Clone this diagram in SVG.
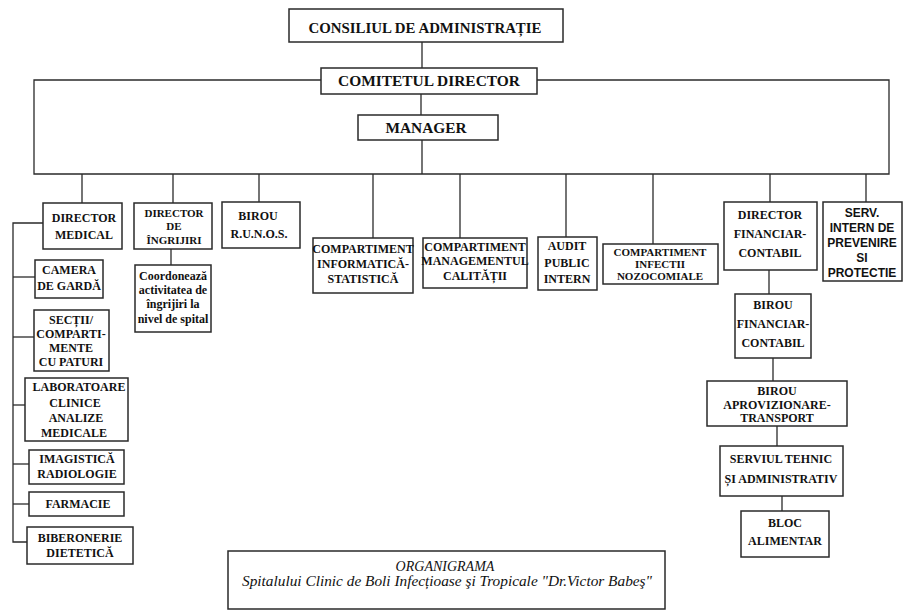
<svg xmlns="http://www.w3.org/2000/svg" width="905" height="612" viewBox="0 0 905 612">
<style>
.b{fill:#fff;stroke:#2a2a2a;stroke-width:1.5}
.c{stroke:#2a2a2a;stroke-width:1.3;fill:none}
text{font-family:'Liberation Serif','DejaVu Serif',serif;font-weight:bold;font-size:12px;fill:#111;text-anchor:middle}
.big{font-size:14px}
.sm{font-size:11px}
text.sans{font-family:'Liberation Sans',Arial,sans-serif;font-size:12px}
text.it{font-style:italic;font-weight:normal;font-size:14px}
</style>
<rect width="905" height="612" fill="#fff"/>
<g id="connectors">
<line class="c" x1="422" y1="42" x2="422" y2="68"/>
<polyline class="c" points="321,80 34,80 34,174 889,174 889,80 537,80"/>
<line class="c" x1="421" y1="94" x2="421" y2="115"/>
<line class="c" x1="422" y1="140" x2="422" y2="174"/>
<line class="c" x1="82" y1="174" x2="82" y2="203"/>
<line class="c" x1="173" y1="174" x2="173" y2="203"/>
<line class="c" x1="259" y1="174" x2="259" y2="202"/>
<line class="c" x1="373" y1="174" x2="373" y2="238"/>
<line class="c" x1="460" y1="174" x2="460" y2="238"/>
<line class="c" x1="566" y1="174" x2="566" y2="237"/>
<line class="c" x1="653" y1="174" x2="653" y2="244"/>
<line class="c" x1="770" y1="174" x2="770" y2="202"/>
<line class="c" x1="866" y1="174" x2="866" y2="202"/>
<line class="c" x1="171" y1="249" x2="171" y2="265"/>
<polyline class="c" points="43,223 13,223 13,542 27,542"/>
<line class="c" x1="13" y1="277" x2="35" y2="277"/>
<line class="c" x1="13" y1="337" x2="34" y2="337"/>
<line class="c" x1="13" y1="405" x2="25" y2="405"/>
<line class="c" x1="13" y1="464" x2="29" y2="464"/>
<line class="c" x1="13" y1="504" x2="29" y2="504"/>
<line class="c" x1="769" y1="270" x2="769" y2="294"/>
<line class="c" x1="773" y1="358" x2="773" y2="381"/>
<line class="c" x1="777" y1="426" x2="777" y2="446"/>
<line class="c" x1="782" y1="496" x2="782" y2="511"/>
</g>
<g id="consiliul"><rect class="b" x="289" y="9" width="274" height="33"/><text class="big" x="425" y="33" textLength="233" lengthAdjust="spacingAndGlyphs">CONSILIUL DE ADMINISTRAȚIE</text></g>
<g id="comitetul"><rect class="b" x="321" y="68" width="216" height="26"/><text class="big" x="429" y="86" textLength="182" lengthAdjust="spacingAndGlyphs">COMITETUL  DIRECTOR</text></g>
<g id="manager"><rect class="b" x="358" y="115" width="140" height="25"/><text class="big" x="426" y="133" textLength="81" lengthAdjust="spacingAndGlyphs">MANAGER</text></g>
<g id="director-medical"><rect class="b" x="43" y="203" width="79" height="46"/><text x="84" y="222">DIRECTOR</text><text x="84" y="239">MEDICAL</text></g>
<g id="director-ingrijiri"><rect class="b" x="134" y="203" width="78" height="46"/><text class="sm" x="174" y="217">DIRECTOR</text><text class="sm" x="174" y="230">DE</text><text class="sm" x="174" y="244">ÎNGRIJIRI</text></g>
<g id="birou-runos"><rect class="b" x="222" y="202" width="78" height="46"/><text x="258" y="220">BIROU</text><text x="259" y="238">R.U.N.O.S.</text></g>
<g id="coordoneaza"><rect class="b" x="135" y="265" width="76" height="67"/><text x="173" y="280">Coordonează</text><text x="173" y="294">activitatea de</text><text x="173" y="308">îngrijiri la</text><text x="173" y="323">nivel de spital</text></g>
<g id="camera-garda"><rect class="b" x="35" y="260" width="68" height="38"/><text x="69" y="274">CAMERA</text><text x="69" y="290">DE GARDĂ</text></g>
<g id="sectii"><rect class="b" x="34" y="310" width="75" height="61"/><text x="71" y="324">SECȚII/</text><text x="71" y="338">COMPARTI-</text><text x="71" y="352">MENTE</text><text x="71" y="366">CU PATURI</text></g>
<g id="laboratoare"><rect class="b" x="25" y="378" width="103" height="63"/><text x="79" y="391">LABORATOARE</text><text x="75" y="407">CLINICE</text><text x="76" y="422">ANALIZE</text><text x="74" y="437">MEDICALE</text></g>
<g id="imagistica"><rect class="b" x="29" y="450" width="95" height="34"/><text x="77" y="463">IMAGISTICĂ</text><text x="77" y="478">RADIOLOGIE</text></g>
<g id="farmacie"><rect class="b" x="29" y="492" width="95" height="24"/><text x="78" y="508">FARMACIE</text></g>
<g id="biberonerie"><rect class="b" x="27" y="527" width="106" height="37"/><text x="80" y="542">BIBERONERIE</text><text x="80" y="557">DIETETICĂ</text></g>
<g id="informatica"><rect class="b" x="313" y="238" width="100" height="55"/><text x="363" y="253">COMPARTIMENT</text><text x="363" y="268">INFORMATICĂ-</text><text x="363" y="283">STATISTICĂ</text></g>
<g id="calitatii"><rect class="b" x="423" y="238" width="104" height="50"/><text x="475" y="251">COMPARTIMENT</text><text x="475" y="265">MANAGEMENTUL</text><text x="475" y="280">CALITĂȚII</text></g>
<g id="audit"><rect class="b" x="538" y="237" width="59" height="53"/><text x="567" y="250">AUDIT</text><text x="567" y="267">PUBLIC</text><text x="567" y="283">INTERN</text></g>
<g id="infectii"><rect class="b" x="603" y="244" width="115" height="40"/><text class="sm" x="660" y="256">COMPARTIMENT</text><text class="sm" x="660" y="268">INFECTII</text><text class="sm" x="660" y="280">NOZOCOMIALE</text></g>
<g id="director-financiar"><rect class="b" x="724" y="202" width="93" height="68"/><text x="770" y="219">DIRECTOR</text><text x="770" y="238">FINANCIAR-</text><text x="770" y="257">CONTABIL</text></g>
<g id="serv-intern"><rect class="b" x="823" y="202" width="79" height="79"/><text class="sans" x="862" y="217">SERV.</text><text class="sans" x="862" y="232">INTERN DE</text><text class="sans" x="862" y="247">PREVENIRE</text><text class="sans" x="862" y="262">SI</text><text class="sans" x="862" y="277">PROTECTIE</text></g>
<g id="birou-financiar"><rect class="b" x="735" y="294" width="76" height="64"/><text x="773" y="309">BIROU</text><text x="773" y="328">FINANCIAR-</text><text x="773" y="347">CONTABIL</text></g>
<g id="aprovizionare"><rect class="b" x="707" y="381" width="140" height="45"/><text x="777" y="395">BIROU</text><text x="777" y="409">APROVIZIONARE-</text><text x="777" y="422">TRANSPORT</text></g>
<g id="serviul-tehnic"><rect class="b" x="720" y="446" width="123" height="50"/><text x="781" y="463">SERVIUL TEHNIC</text><text x="781" y="483">ȘI ADMINISTRATIV</text></g>
<g id="bloc-alimentar"><rect class="b" x="741" y="511" width="88" height="46"/><text x="785" y="527">BLOC</text><text x="785" y="545">ALIMENTAR</text></g>
<g id="titlu"><rect class="b" x="228" y="551" width="437" height="58"/><text class="it" x="445" y="571">ORGANIGRAMA</text><text class="it" x="447" y="586" textLength="410" lengthAdjust="spacingAndGlyphs">Spitalului Clinic de Boli Infecțioase şi Tropicale "Dr.Victor Babeş"</text></g>
</svg>
